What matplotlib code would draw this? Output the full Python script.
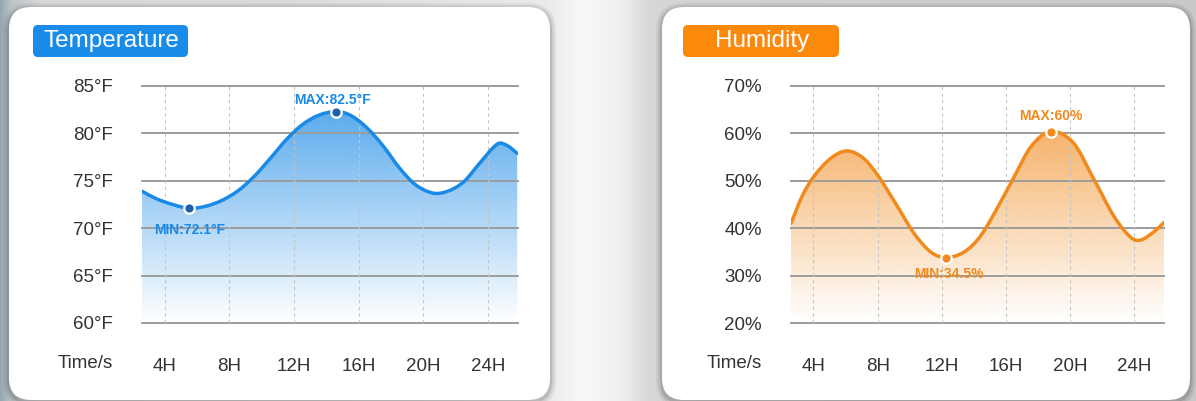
import numpy as np
import matplotlib
matplotlib.use('Agg')
import matplotlib.pyplot as plt
from matplotlib.path import Path
from matplotlib.patches import PathPatch, FancyBboxPatch
from matplotlib.colors import to_rgb

plt.rcParams['font.family'] = ['Liberation Sans', 'DejaVu Sans']

# ── data ───────────────────────────────────────────────────────────
hour_ticks = [4, 8, 12, 16, 20, 24]
hour_labels = ['4H', '8H', '12H', '16H', '20H', '24H']

temp_ticks = [60, 65, 70, 75, 80, 85]
temp_labels = ['60°F', '65°F', '70°F', '75°F', '80°F', '85°F']
temp_hours = [2.6, 3.5, 4.5, 5.5, 6.5, 7.5, 8.5, 9.5, 10.5, 11.5, 12.5, 13.5,
              14.6, 15.5, 16.5, 17.5, 18.5, 19.5, 20.6, 21.5, 22.5, 23.5,
              24.6, 25.2, 25.8]
temp_values = [73.9, 73.1, 72.5, 72.1, 72.3, 72.9, 73.9, 75.4, 77.3, 79.3, 80.9, 81.9,
               82.3, 81.9, 80.6, 78.7, 76.4, 74.6, 73.7, 73.9, 74.9, 76.9,
               78.9, 78.7, 77.9]
temp_max_text = 'MAX:82.5°F'
temp_min_text = 'MIN:72.1°F'

hum_ticks = [20, 30, 40, 50, 60, 70]
hum_labels = ['20%', '30%', '40%', '50%', '60%', '70%']
hum_hours = [2.6, 3.3, 4.0, 5.1, 6.1, 7.1, 8.0, 9.25, 10.25, 11.3, 12.25, 13.4,
             14.4, 15.5, 16.5, 17.6, 18.8, 20.2, 21.5, 22.75, 23.8, 24.4,
             25.2, 25.85]
hum_values = [41.0, 46.8, 50.8, 54.8, 56.3, 54.8, 51.2, 44.5, 39.0, 35.0, 33.8, 35.0,
              38.3, 44.5, 50.8, 57.4, 60.4, 58.0, 50.2, 42.4, 38.0, 37.5,
              39.2, 41.2]
hum_max_text = 'MAX:60%'
hum_min_text = 'MIN:34.5%'

BLUE = '#1a8ae6'
ORANGE = '#f08a1c'


def smooth_path(xs, ys):
    # cubic Hermite through the read points, drawn as Bezier segments
    x = np.asarray(xs, float)
    y = np.asarray(ys, float)
    n = len(x)
    m = np.empty(n)
    m[1:-1] = (y[2:] - y[:-2]) / (x[2:] - x[:-2])
    m[0] = (y[1] - y[0]) / (x[1] - x[0])
    m[-1] = (y[-1] - y[-2]) / (x[-1] - x[-2])
    verts, codes = [(x[0], y[0])], [Path.MOVETO]
    for i in range(n - 1):
        dx = x[i + 1] - x[i]
        verts += [(x[i] + dx / 3, y[i] + m[i] * dx / 3),
                  (x[i + 1] - dx / 3, y[i + 1] - m[i + 1] * dx / 3),
                  (x[i + 1], y[i + 1])]
        codes += [Path.CURVE4] * 3
    return verts, codes


def draw_panel(ax, hours, values, yticks, ylabels, color,
               max_text, min_text, max_off, min_off, max_face, min_face):
    ymin, ymax = yticks[0], yticks[-1]
    x0, x1 = 2.6, 25.85
    verts, codes = smooth_path(hours, values)

    # gradient fill under the curve
    fverts = verts + [(hours[-1], ymin), (hours[0], ymin), verts[0]]
    fcodes = codes + [Path.LINETO, Path.LINETO, Path.CLOSEPOLY]
    clip = PathPatch(Path(fverts, fcodes), transform=ax.transData,
                     facecolor='none', edgecolor='none')
    ax.add_patch(clip)
    grad = np.zeros((256, 1, 4))
    grad[..., :3] = to_rgb(color)
    grad[..., 3] = np.linspace(0.80, 0.0, 256)[:, None]
    im = ax.imshow(grad, extent=[x0, x1, ymin, ymax], aspect='auto',
                   origin='upper', zorder=1)
    im.set_clip_path(clip)

    # grid
    for t in yticks:
        ax.axhline(t, color='#9c9c9c', lw=1.4, zorder=2, clip_on=False)
    for h in hour_ticks:
        ax.axvline(h, color='#c4c4c4', lw=0.8, ls=(0, (3, 3)), zorder=2)

    # curve
    ax.add_patch(PathPatch(Path(verts, codes), facecolor='none',
                           edgecolor=color, lw=2.5, zorder=4,
                           capstyle='round'))

    vals = np.array(values)
    imax, imin = int(vals.argmax()), int(vals.argmin())
    ax.plot(hours[imax], values[imax], 'o', ms=7.5, mfc=max_face, mec='white',
            mew=1.6, zorder=5)
    ax.plot(hours[imin], values[imin], 'o', ms=7.5, mfc=min_face, mec='white',
            mew=1.6, zorder=5)
    ax.annotate(max_text, (hours[imax], values[imax]), xytext=max_off,
                textcoords='offset pixels', ha='center', va='center',
                color=color, fontsize=10, fontweight='bold', zorder=6)
    ax.annotate(min_text, (hours[imin], values[imin]), xytext=min_off,
                textcoords='offset pixels', ha='center', va='center',
                color=color, fontsize=10, fontweight='bold', zorder=6)

    ax.set_xlim(x0, x1)
    ax.set_ylim(ymin, ymax)
    ax.set_xticks(hour_ticks)
    ax.set_xticklabels(hour_labels)
    ax.set_yticks(yticks)
    ax.set_yticklabels(ylabels)
    ax.tick_params(axis='both', length=0, labelsize=13.5, labelcolor='#333333')
    ax.tick_params(axis='y', pad=21)
    ax.tick_params(axis='x', pad=25)
    for s in ax.spines.values():
        s.set_visible(False)
    ax.set_facecolor('none')


W, H = 1196, 401
fig = plt.figure(figsize=(W / 100, H / 100), dpi=100)

# background + cards (pixel coords)
bg = fig.add_axes([0, 0, 1, 1], zorder=-1)
bg.set_xlim(0, W)
bg.set_ylim(H, 0)
bg.axis('off')
stops_x = [0, 10, 40, 300, 550, 580, 620, 650, 700, 1000, 1196]
stops_c = [(150, 165, 175), (185, 195, 200), (215, 215, 215), (220, 220, 220),
           (235, 235, 235), (248, 248, 248), (240, 240, 240), (215, 215, 215),
           (210, 210, 210), (205, 205, 205), (200, 200, 200)]
xs = np.arange(W)
row = np.stack([np.interp(xs, stops_x, [c[k] for c in stops_c]) for k in range(3)], axis=-1) / 255
bg.imshow(row[None, :, :], extent=[0, W, H, 0], aspect='auto', zorder=0)

for (cx0, cx1) in [(9, 550), (662, 1190)]:
    for grow, a in [(6, 0.05), (4, 0.07), (2, 0.10)]:
        bg.add_patch(FancyBboxPatch((cx0 - grow, 7 - grow + 2), cx1 - cx0 + 2 * grow,
                                    400 - 7 + 2 * grow,
                                    boxstyle='round,pad=0,rounding_size=%d' % (22 + grow),
                                    facecolor='black', edgecolor='none', alpha=a, zorder=1))
    bg.add_patch(FancyBboxPatch((cx0, 7), cx1 - cx0, 400 - 7,
                                boxstyle='round,pad=0,rounding_size=22',
                                facecolor='white', edgecolor='none', zorder=2))

bg.add_patch(FancyBboxPatch((33, 25), 155, 32, boxstyle='round,pad=0,rounding_size=5',
                            facecolor='#188ce8', edgecolor='none', zorder=3))
bg.text(111, 41.5, 'Temperature', color='white', fontsize=17.5, ha='center',
        va='center', zorder=4)
bg.add_patch(FancyBboxPatch((683, 25), 156, 32, boxstyle='round,pad=0,rounding_size=5',
                            facecolor='#fb8a0c', edgecolor='none', zorder=3))
bg.text(762, 41.5, 'Humidity', color='white', fontsize=17.5, ha='center',
        va='center', zorder=4)

bg.text(113, 364, 'Time/s', color='#333333', fontsize=13.5, ha='right', va='center', zorder=4)
bg.text(762, 364, 'Time/s', color='#333333', fontsize=13.5, ha='right', va='center', zorder=4)

ax1 = fig.add_axes([142 / W, 1 - 323 / H, 376 / W, 237 / H])
ax2 = fig.add_axes([791 / W, 1 - 323 / H, 373 / W, 237 / H])

draw_panel(ax1, temp_hours, temp_values, temp_ticks, temp_labels, BLUE,
           temp_max_text, temp_min_text, (-4, 12), (1, -22), '#1d5fa8', '#1d5fa8')
draw_panel(ax2, hum_hours, hum_values, hum_ticks, hum_labels, ORANGE,
           hum_max_text, hum_min_text, (0, 16), (3, -16), ORANGE, ORANGE)

fig.savefig('out.png', dpi=100)
